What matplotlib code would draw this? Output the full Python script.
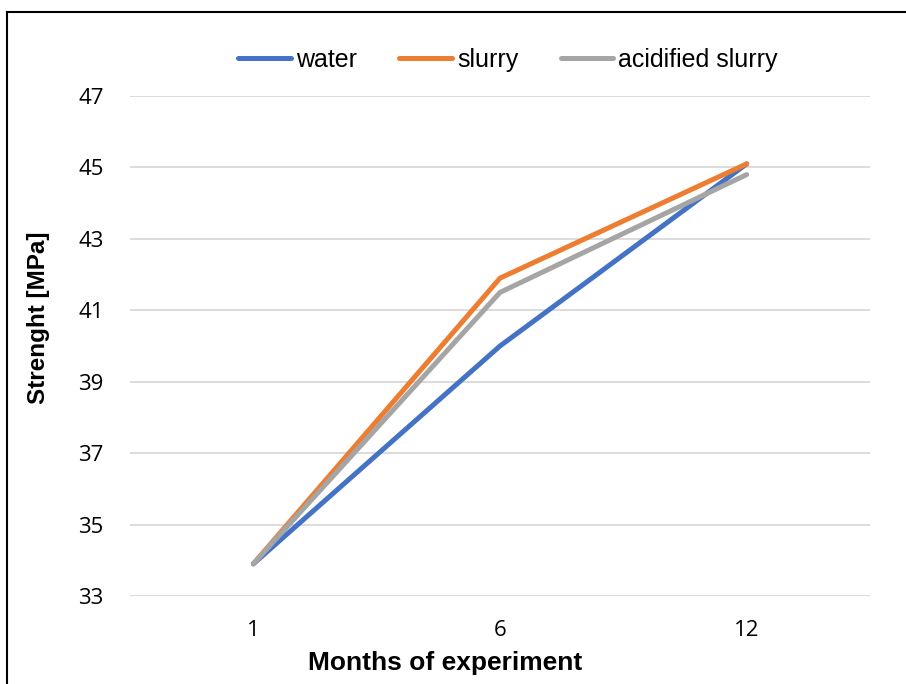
import matplotlib
matplotlib.use("Agg")
import matplotlib.pyplot as plt
from matplotlib.lines import Line2D

months = ["1", "6", "12"]
water = [33.9, 40.0, 45.1]
slurry = [33.9, 41.9, 45.1]
acidified = [33.9, 41.5, 44.8]
yticks = [33, 35, 37, 39, 41, 43, 45, 47]

W, H = 906, 684
fig = plt.figure(figsize=(W / 100, H / 100), dpi=100)
ax = fig.add_axes([130 / W, 1 - 596 / H, 740 / W, 500 / H])

x = range(len(months))
lw = 3.6
ax.plot(x, water, color="#4472C4", lw=lw, solid_capstyle="round", solid_joinstyle="round", label="water")
ax.plot(x, slurry, color="#ED7D31", lw=lw, solid_capstyle="round", solid_joinstyle="round", label="slurry")
ax.plot(x, acidified, color="#A5A5A5", lw=lw, solid_capstyle="round", solid_joinstyle="round", label="acidified slurry")

ax.set_xlim(-0.5, 2.5)
ax.set_ylim(33, 47)
ax.set_yticks(yticks)
ax.set_xticks(list(x))
ax.set_xticklabels(months)
for s in ax.spines.values():
    s.set_visible(False)
ax.yaxis.grid(True, color="#D9D9D9", lw=1.3)
ax.set_axisbelow(True)
ax.tick_params(axis="both", length=0, labelsize=16, colors="#000000")
ax.tick_params(axis="y", pad=19)
ax.tick_params(axis="x", pad=17)
for t in ax.get_xticklabels() + ax.get_yticklabels():
    t.set_family("Open Sans")

xl = ax.set_xlabel("Months of experiment", family="Liberation Sans", fontweight="bold", fontsize=19)
xl.set_va("center")
ax.xaxis.set_label_coords((445 - 130) / 740, (596 - 663) / 500)
yl = ax.set_ylabel("Strenght [MPa]", family="Liberation Sans", fontweight="bold", fontsize=17.5)
yl.set_va("center")
ax.yaxis.set_label_coords((39 - 130) / 740, (596 - 318) / 500)

leg = ax.legend(loc="center", bbox_to_anchor=(508 / W, 1 - 60 / H), bbox_transform=fig.transFigure,
                ncol=3, frameon=False, handlelength=2.1, handletextpad=0.2, columnspacing=1.7,
                prop={"family": "Liberation Sans", "size": 18})

# outer border (cropped on right and bottom)
fig.add_artist(Line2D([7 / W, 7 / W], [1 - 12 / H, 0], color="black", lw=1.5, transform=fig.transFigure))
fig.add_artist(Line2D([7 / W, 1], [1 - 12 / H, 1 - 12 / H], color="black", lw=1.5, transform=fig.transFigure))

fig.savefig("out.png", dpi=100)
